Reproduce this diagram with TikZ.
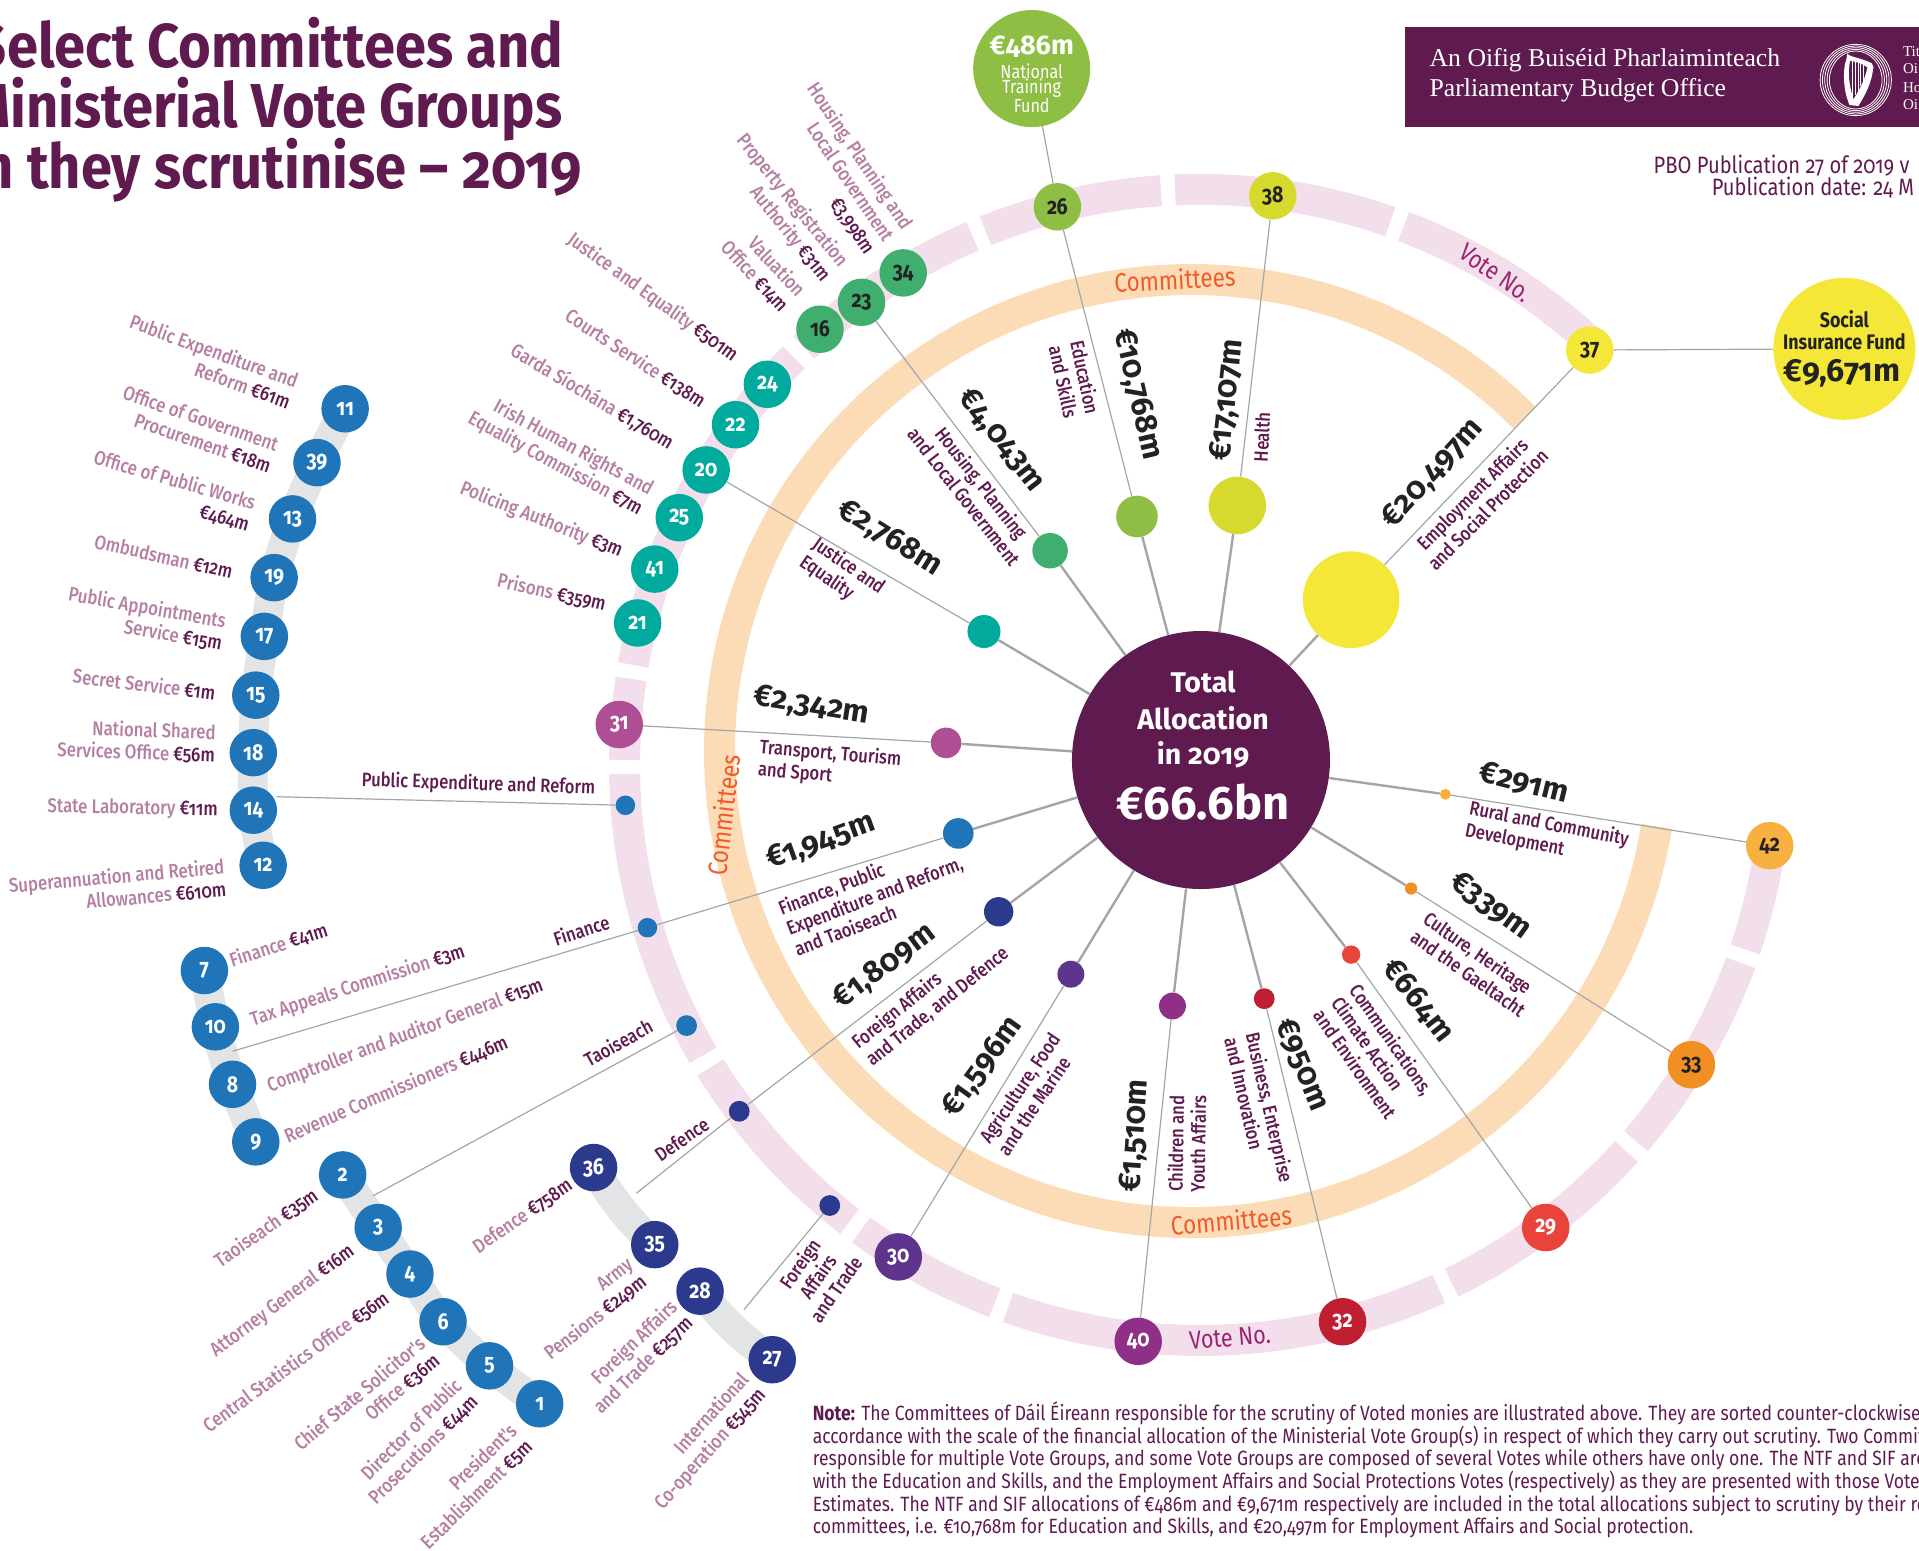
\documentclass[tikz,border=0pt]{standalone}
\usepackage{fontspec}
\usetikzlibrary{backgrounds}
\setmainfont{Fira Sans}[Numbers=OldStyle,FakeStretch=0.85]
\newfontfamily\wide{Fira Sans}[Numbers=OldStyle,FakeStretch=1.0]
\newfontfamily\ttlfont{Fira Sans}[Numbers=OldStyle,FakeStretch=0.905]
\newfontfamily\med{Fira Sans Medium}[Numbers=OldStyle,FakeStretch=0.85]
\newfontfamily\serifhead{Liberation Serif}
\definecolor{pdark}{HTML}{5F1A4F}
\definecolor{lpink}{HTML}{B57FA3}
\definecolor{ringp}{HTML}{F3DFEC}
\definecolor{ringo}{HTML}{FBDCB6}
\definecolor{greyb}{HTML}{E3E4E6}
\definecolor{line}{HTML}{A3A5A8}
\definecolor{cblue}{HTML}{2075B8}
\definecolor{cteal}{HTML}{00AB9D}
\definecolor{cgreen}{HTML}{3FAE6E}
\definecolor{clime}{HTML}{8FBE44}
\definecolor{cylime}{HTML}{D6D92E}
\definecolor{cyellow}{HTML}{F5E737}
\definecolor{cmag}{HTML}{AE4F96}
\definecolor{cnavy}{HTML}{2C3A8E}
\definecolor{cpurp}{HTML}{5E348F}
\definecolor{cviol}{HTML}{8F2F87}
\definecolor{cred}{HTML}{C01F31}
\definecolor{ctom}{HTML}{E8443B}
\definecolor{corg}{HTML}{F28F23}
\definecolor{clor}{HTML}{F8B040}
\definecolor{inkd}{HTML}{222222}
\definecolor{corange}{HTML}{F15A29}
\definecolor{votet}{HTML}{9B2470}
\newcommand\amtc[1]{\textcolor{pdark}{#1}}
\newcommand\vseg[2]{\draw[votering] (980.6,625)+(-#1:470.3) arc[start angle=-#1,end angle=-#2,radius=470.3];}
\tikzset{
 votering/.style={draw=ringp,line width=31pt},
 comring/.style={draw=ringo,line width=31pt},
 chain/.style={draw=greyb,line width=30pt},
 vote/.style={circle,fill=#1,minimum size=47.5pt,inner sep=0pt,font=\fontsize{23}{23}\selectfont\bfseries},
 dotn/.style={circle,fill=#1,inner sep=0pt},
 thick line/.style={draw=line,line width=2.4pt},
 thin line/.style={draw=line,line width=1.2pt},
 lab/.style={font=\med\fontsize{19.8}{22.5}\selectfont,text=lpink,align=right,inner sep=0pt},
 comm/.style={font=\med\fontsize{19.5}{22}\selectfont,text=pdark,align=left,inner sep=0pt},
 amount/.style={font=\wide\fontsize{31}{31}\selectfont\bfseries,text=inkd,inner sep=0pt},
 ringlab/.style={font=\fontsize{26.5}{26.5}\selectfont,text=corange,inner sep=0pt},
 votelab/.style={font=\fontsize{25.5}{25.5}\selectfont,text=votet,inner sep=0pt},
 titlet/.style={font=\ttlfont\fontsize{62}{62}\selectfont\bfseries,text=pdark,anchor=base east,inner sep=0pt},
}
\begin{document}
\begin{tikzpicture}[x=1.2238pt,y=-1.2238pt]
\useasboundingbox (0,0) rectangle (1568,1267);
\clip (0,0) rectangle (1568,1267);
% rings
\draw[comring] (973.2,613.7)+(-45:385.3) arc[start angle=-45,end angle=-350.8,radius=385.3];
\vseg{46.8}{69.3}\vseg{70.7}{92.5}\vseg{93.9}{111.9}\vseg{113.3}{133.5}\vseg{134.9}{170}\vseg{171.4}{179.5}\vseg{180.9}{210.3}\vseg{211.7}{232.5}\vseg{233.9}{249.1}\vseg{250.5}{294.5}\vseg{295.9}{317.8}\vseg{319.2}{339.9}\vseg{341.3}{352}
% vote nodes
\foreach \n/\x/\y/\c/\t in {11/282/334/cblue/white,39/259/378/cblue/white,13/239/424/cblue/white,19/224/472/cblue/white,17/216/520/cblue/white,15/209/568/cblue/white,18/207/615/cblue/white,14/207/662/cblue/white,12/215/707/cblue/white,
 7/167/793/cblue/white,10/176/839/cblue/white,8/190/886/cblue/white,9/209/933/cblue/white,
 2/280/960/cblue/white,3/309/1003/cblue/white,4/335/1041/cblue/white,6/362/1080/cblue/white,5/400/1116/cblue/white,1/441/1147/cblue/white,
 36/485/954/cnavy/white,35/535/1017/cnavy/white,28/572/1055/cnavy/white,27/631/1111/cnavy/white,
 30/734/1027/cpurp/white,40/930/1096/cviol/white,32/1097/1080/cred/white,29/1263/1003/ctom/white,33/1382/870/corg/inkd,42/1446/691/clor/inkd,37/1299/286/cyellow/inkd,38/1040/160/cylime/inkd,26/864/169/clime/inkd,34/738/223/cgreen/inkd,23/704/247/cgreen/inkd,16/670/269/cgreen/inkd,
 24/627/314/cteal/white,22/601/347/cteal/white,20/577/384/cteal/white,25/555/423/cteal/white,41/535/465/cteal/white,21/521/509/cteal/white,31/506/592/cmag/white}
 {\node[vote=\c,text=\t] (v\n) at (\x,\y) {\n};}
% grey chains behind the vote nodes
\begin{scope}[on background layer]
\draw[chain] plot[smooth] coordinates {(v11.center)(v39.center)(v13.center)(v19.center)(v17.center)(v15.center)(v18.center)(v14.center)(v12.center)};
\draw[chain] plot[smooth] coordinates {(v7.center)(v10.center)(v8.center)(v9.center)};
\draw[chain] plot[smooth] coordinates {(v2.center)(v3.center)(v4.center)(v6.center)(v5.center)(v1.center)};
\draw[chain] (v36.center) to[bend right=8] (v35.center);
\draw[chain] (v28.center) to[bend right=8] (v27.center);
\end{scope}
% main and inner nodes
\node[dotn=pdark,minimum size=258pt] (main) at (981.3,621) {};
\foreach \n/\x/\y/\r/\c in {emp/1104/490/39.5/cyellow,hea/1011/413/23.5/cylime,edu/929/422/17/clime,hou/858/450/14.5/cgreen,jus/804/516/13.5/cteal,tra/773/607/12.5/cmag,fin/783/681/12.5/cblue,for/816/745/12/cnavy,agr/875/796/11/cpurp,chi/958/822/11/cviol,bus/1033/816/8.5/cred,com/1104/780/7.5/ctom,cul/1153/726/5/corg,rur/1181/649/4.5/clor,
 dpub/511/658/8/cblue,dfin/529/758/8/cblue,dtao/561/838/8.5/cblue,ddef/604/908/8.5/cnavy,dfor/678/985/8.5/cnavy}
 {\node[dotn=\c,minimum size={2*\r*1.2238pt}] (\n) at (\x,\y) {};}
\node[dotn=clime,minimum size=117pt] (ntf) at (843,56) {};
\node[dotn=cyellow,minimum size=142pt] (sif) at (1507,285) {};
\coordinate (ffin) at (190,859);
\coordinate (ftao) at (305,977);
\coordinate (fdef) at (520,975);
\coordinate (ffor) at (608,1070);
\coordinate (fpub) at (226,651);
% connectors
\foreach \a in {emp,hea,edu,hou,jus,tra,fin,for,agr,chi,bus,com,cul,rur} {\draw[thick line] (main)--(\a);}
\foreach \a/\b in {emp/v37,hea/v38,edu/v26,hou/v23,jus/v20,tra/v31,fin/dfin,for/ddef,agr/v30,chi/v40,bus/v32,com/v29,cul/v33,rur/v42,dfin/ffin,dtao/ftao,ddef/fdef,dfor/ffor,dpub/fpub,v26/ntf,v37/sif}
 {\draw[thin line] (\a)--(\b);}
% big node text
\node[font=\wide\fontsize{28.5}{28.5}\selectfont\bfseries,text=white,inner sep=0pt] (t1) at (983,557) {Total};
\node[font=\wide\fontsize{28.5}{28.5}\selectfont\bfseries,text=white,inner sep=0pt] (t2) at (983,587) {Allocation};
\node[font=\wide\fontsize{28.5}{28.5}\selectfont\bfseries,text=white,inner sep=0pt] (t3) at (983,617) {in 2019};
\node[font=\wide\fontsize{47}{47}\selectfont\bfseries,text=white,inner sep=0pt] (t4) at (983,655) {€66.6bn};
\node[font=\wide\fontsize{27}{27}\selectfont\bfseries,text=white,inner sep=0pt] (n1) at (843,38) {€486m};
\node[font=\fontsize{19}{19}\selectfont,text=white,inner sep=0pt] (n2) at (843,58) {National};
\node[font=\fontsize{19}{19}\selectfont,text=white,inner sep=0pt] (n3) at (843,72) {Training};
\node[font=\fontsize{19}{19}\selectfont,text=white,inner sep=0pt] (n4) at (843,86) {Fund};
\node[font=\fontsize{21}{21}\selectfont\bfseries,text=inkd,inner sep=0pt] (s1) at (1507,261) {Social};
\node[font=\fontsize{21}{21}\selectfont\bfseries,text=inkd,inner sep=0pt] (s2) at (1507,279) {Insurance Fund};
\node[font=\wide\fontsize{32}{32}\selectfont\bfseries,text=inkd,inner sep=0pt] (s3) at (1505,305) {€9,671m};
% title
\node[titlet] (ttl1) at (460.4,55) {Select Committees and};
\node[titlet] (ttl2) at (459.6,104) {Ministerial Vote Groups};
\node[titlet] (ttl3) at (476,153.8) {n they scrutinise – 2019};
% header
\fill[pdark] (1148,22) rectangle (1568,104);
\node[font=\serifhead\fontsize{25.7}{25.7}\selectfont,text=white,anchor=base west,inner sep=0pt] (h1) at (1168,54) {An Oifig Buiséid Pharlaiminteach};
\node[font=\serifhead\fontsize{25.7}{25.7}\selectfont,text=white,anchor=base west,inner sep=0pt] (h2) at (1168,79) {Parliamentary Budget Office};
\begin{scope}[xshift=1790pt,yshift=-20pt,x=0.3333pt,y=-0.3333pt]
\foreach \a/\b in {107/107,100/102,93/97,86/92,79/87} {\draw[white,line width=0.8pt] (197,180) ellipse[x radius=\a,y radius=\b];}
\fill[white,even odd rule] (172,100) .. controls (178,112) and (210,112) .. (245,130) -- (250,140) .. controls (245,190) and (225,225) .. (205,258) -- (178,255) -- (170,232) .. controls (158,190) and (160,140) .. (168,122) -- cycle
 (180,122) .. controls (195,125) and (215,130) .. (232,142) .. controls (225,180) and (205,215) .. (190,238) .. controls (178,200) and (172,160) .. (180,122) -- cycle;
\foreach \xx in {188,196,204,212,220} {\draw[white,line width=0.7pt] ({\xx},{120+(\xx-180)*0.35}) -- ({\xx},{250-(\xx-180)*1.6});}
\end{scope}
\foreach \txt/\yy/\nm in {Tit/42.5/g1,Oi/56.4/g2,Ho/71.9/g3,Oi/85.8/g4} {\node[font=\serifhead\fontsize{15}{15}\selectfont,text=white,anchor=west,inner sep=0pt] (\nm) at (1554.8,\yy) {\txt};}
\node[font=\fontsize{23.7}{23.7}\selectfont,text=pdark,anchor=base west,inner sep=0pt] (p1) at (1351,141.5) {PBO Publication 27 of 2019 v};
\node[font=\fontsize{23.7}{23.7}\selectfont,text=pdark,anchor=base west,inner sep=0pt] (p2) at (1398.5,160) {Publication date: 24 M};
% note
\node[font=\fontsize{20.65}{22.7}\selectfont,text=pdark,align=left,anchor=north west,inner sep=0pt] (note) at (664,1145) {\textbf{Note:} The Committees of Dáil Éireann responsible for the scrutiny of Voted monies are illustrated above. They are sorted counter-clockwise i\\
accordance with the scale of the financial allocation of the Ministerial Vote Group(s) in respect of which they carry out scrutiny. Two Commit\\
responsible for multiple Vote Groups, and some Vote Groups are composed of several Votes while others have only one. The NTF and SIF are\\
with the Education and Skills, and the Employment Affairs and Social Protections Votes (respectively) as they are presented with those Vote\\
Estimates. The NTF and SIF allocations of €486m and €9,671m respectively are included in the total allocations subject to scrutiny by their re\\
committees, i.e. €10,768m for Education and Skills, and €20,497m for Employment Affairs and Social protection.};
% ring labels
\node[ringlab,rotate=3] (r1) at (960,228) {Committees};
\node[ringlab,rotate=83] (r2) at (591,666) {Committees};
\node[ringlab,rotate=5] (r3) at (1006,997) {Committees};
\node[votelab,rotate=-35] (r4) at (1222,223) {Vote No.};
\node[votelab,rotate=5] (r5) at (1005,1093) {Vote No.};
% vote labels
\node[lab,anchor=east,rotate=-20] (a1) at (240,320) {Public Expenditure and\\Reform \amtc{€61m}};
\node[lab,anchor=east,rotate=-19] (a2) at (224,372) {Office of Government\\Procurement \amtc{€18m}};
\node[lab,anchor=east,rotate=-16] (a3) at (206,420) {Office of Public Works\\\amtc{€464m}};
\node[lab,anchor=east,rotate=-12.5] (a4) at (190,467) {Ombudsman \amtc{€12m}};
\node[lab,anchor=east,rotate=-10] (a5) at (183,517) {Public Appointments\\Service \amtc{€15m}};
\node[lab,anchor=east,rotate=-7] (a6) at (176,566) {Secret Service \amtc{€1m}};
\node[lab,anchor=east,rotate=-2] (a7) at (176,608) {National Shared\\Services Office \amtc{€56m}};
\node[lab,anchor=east,rotate=-1] (a8) at (178,662) {State Laboratory \amtc{€11m}};
\node[lab,anchor=east,rotate=5] (a9) at (184,717) {Superannuation and Retired\\Allowances \amtc{€610m}};
\node[lab,anchor=west,rotate=18] (b1) at (188,785) {Finance \amtc{€41m}};
\node[lab,anchor=west,rotate=18] (b2) at (205,834) {Tax Appeals Commission \amtc{€3m}};
\node[lab,anchor=west,rotate=20.4] (b3) at (219,888) {Comptroller and Auditor General \amtc{€15m}};
\node[lab,anchor=west,rotate=23.4] (b4) at (233,929) {Revenue Commissioners \amtc{€446m}};
\node[lab,anchor=east,rotate=35] (c1) at (258,975) {Taoiseach \amtc{€35m}};
\node[lab,anchor=east,rotate=36.6] (c2) at (288,1021) {Attorney General \amtc{€16m}};
\node[lab,anchor=east,rotate=36] (c3) at (316,1059) {Central Statistics Office \amtc{€56m}};
\node[lab,anchor=east,rotate=40] (c4) at (351,1103) {Chief State Solicitor's\\Office \amtc{€36m}};
\node[lab,anchor=east,rotate=45] (c5) at (381,1136) {Director of Public\\Prosecutions \amtc{€44m}};
\node[lab,anchor=east,rotate=44] (c6) at (426,1173) {President's\\Establishment \amtc{€5m}};
\node[lab,anchor=east,rotate=34.5] (d1) at (466,967) {Defence \amtc{€758m}};
\node[lab,anchor=east,rotate=38] (d2) at (521,1039) {Army\\Pensions \amtc{€249m}};
\node[lab,anchor=east,rotate=44] (d3) at (557,1072) {Foreign Affairs\\and Trade \amtc{€257m}};
\node[lab,anchor=east,rotate=48] (d4) at (616,1131) {International\\Co-operation \amtc{€545m}};
\node[lab,anchor=east,rotate=-12.6] (e1) at (495,494) {Prisons \amtc{€359m}};
\node[lab,anchor=east,rotate=-21.7] (e2) at (508,451) {Policing Authority \amtc{€3m}};
\node[lab,anchor=east,rotate=-28.5] (e3) at (528,409) {Irish Human Rights and\\Equality Commission \amtc{€7m}};
\node[lab,anchor=east,rotate=-30.8] (e4) at (549,363) {Garda Síochána \amtc{€1,760m}};
\node[lab,anchor=east,rotate=-33] (e5) at (575,329) {Courts Service \amtc{€138m}};
\node[lab,anchor=east,rotate=-35.8] (e6) at (601,292) {Justice and Equality \amtc{€501m}};
\node[lab,anchor=east,rotate=-47] (e7) at (648,246) {Valuation\\Office \amtc{€14m}};
\node[lab,anchor=east,rotate=-51] (e8) at (682,222) {Property Registration\\Authority \amtc{€31m}};
\node[lab,anchor=east,rotate=-56] (e9) at (726,196) {Housing, Planning and\\Local Government\\\amtc{€3,998m}};
% amounts
\node[amount,rotate=48] (m1) at (1171,387) {€20,497m};
\node[amount,rotate=84] (m2) at (1003,327) {€17,107m};
\node[amount,rotate=-77] (m3) at (929,322) {€10,768m};
\node[amount,rotate=-52] (m4) at (818,360) {€4,043m};
\node[amount,rotate=-32] (m5) at (727,440) {€2,768m};
\node[amount,rotate=-9] (m6) at (663,577) {€2,342m};
\node[amount,rotate=20] (m7) at (671,688) {€1,945m};
\node[amount,rotate=37] (m8) at (723,790) {€1,809m};
\node[amount,rotate=54] (m9) at (803,872) {€1,596m};
\node[amount,rotate=86] (m10) at (928,928) {€1,510m};
\node[amount,rotate=-68] (m11) at (1064,870) {€950m};
\node[amount,rotate=-52] (m12) at (1159,818) {€664m};
\node[amount,rotate=-36] (m13) at (1218,740) {€339m};
\node[amount,rotate=-14] (m14) at (1245,640) {€291m};
% committee labels
\node[comm,align=center,rotate=45] (k1) at (1209,410) {Employment Affairs\\and Social Protection};
\node[comm,rotate=87] (k2) at (1031,357) {Health};
\node[comm,align=center,rotate=-78] (k3) at (878,310) {Education\\and Skills};
\node[comm,align=center,rotate=-52] (k4) at (795,400) {Housing, Planning\\and Local Government};
\node[comm,rotate=-35] (k5) at (688,470) {Justice and\\Equality};
\node[comm,anchor=west,rotate=-5] (k6) at (620,620) {Transport, Tourism\\and Sport};
\node[comm,anchor=west,rotate=21] (k7) at (643,759) {Finance, Public\\Expenditure and Reform,\\and Taoiseach};
\node[comm,anchor=west,rotate=39] (k8) at (704,861) {Foreign Affairs\\and Trade, and Defence};
\node[comm,anchor=west,rotate=56] (k9) at (811,937) {Agriculture, Food\\and the Marine};
\node[comm,anchor=west,rotate=89] (k10) at (969,974) {Children and\\Youth Affairs};
\node[comm,anchor=west,rotate=-77] (k11) at (1015,846) {Business, Enterprise\\and Innovation};
\node[comm,anchor=west,rotate=-55] (k12) at (1092,816) {Communications,\\Climate Action\\and Environment};
\node[comm,anchor=west,rotate=-35] (k13) at (1160,756) {Culture, Heritage\\and the Gaeltacht};
\node[comm,anchor=west,rotate=-11] (k14) at (1199,670) {Rural and Community\\Development};
% small committee labels
\node[comm,rotate=-2] (q1) at (391,641) {Public Expenditure and Reform};
\node[comm,rotate=18] (q2) at (475,760) {Finance};
\node[comm,rotate=29] (q3) at (505,852) {Taoiseach};
\node[comm,rotate=35] (q4) at (557,931) {Defence};
\node[comm,align=center,rotate=55] (q5) at (668,1043) {Foreign\\Affairs\\and Trade};
\end{tikzpicture}
\end{document}
